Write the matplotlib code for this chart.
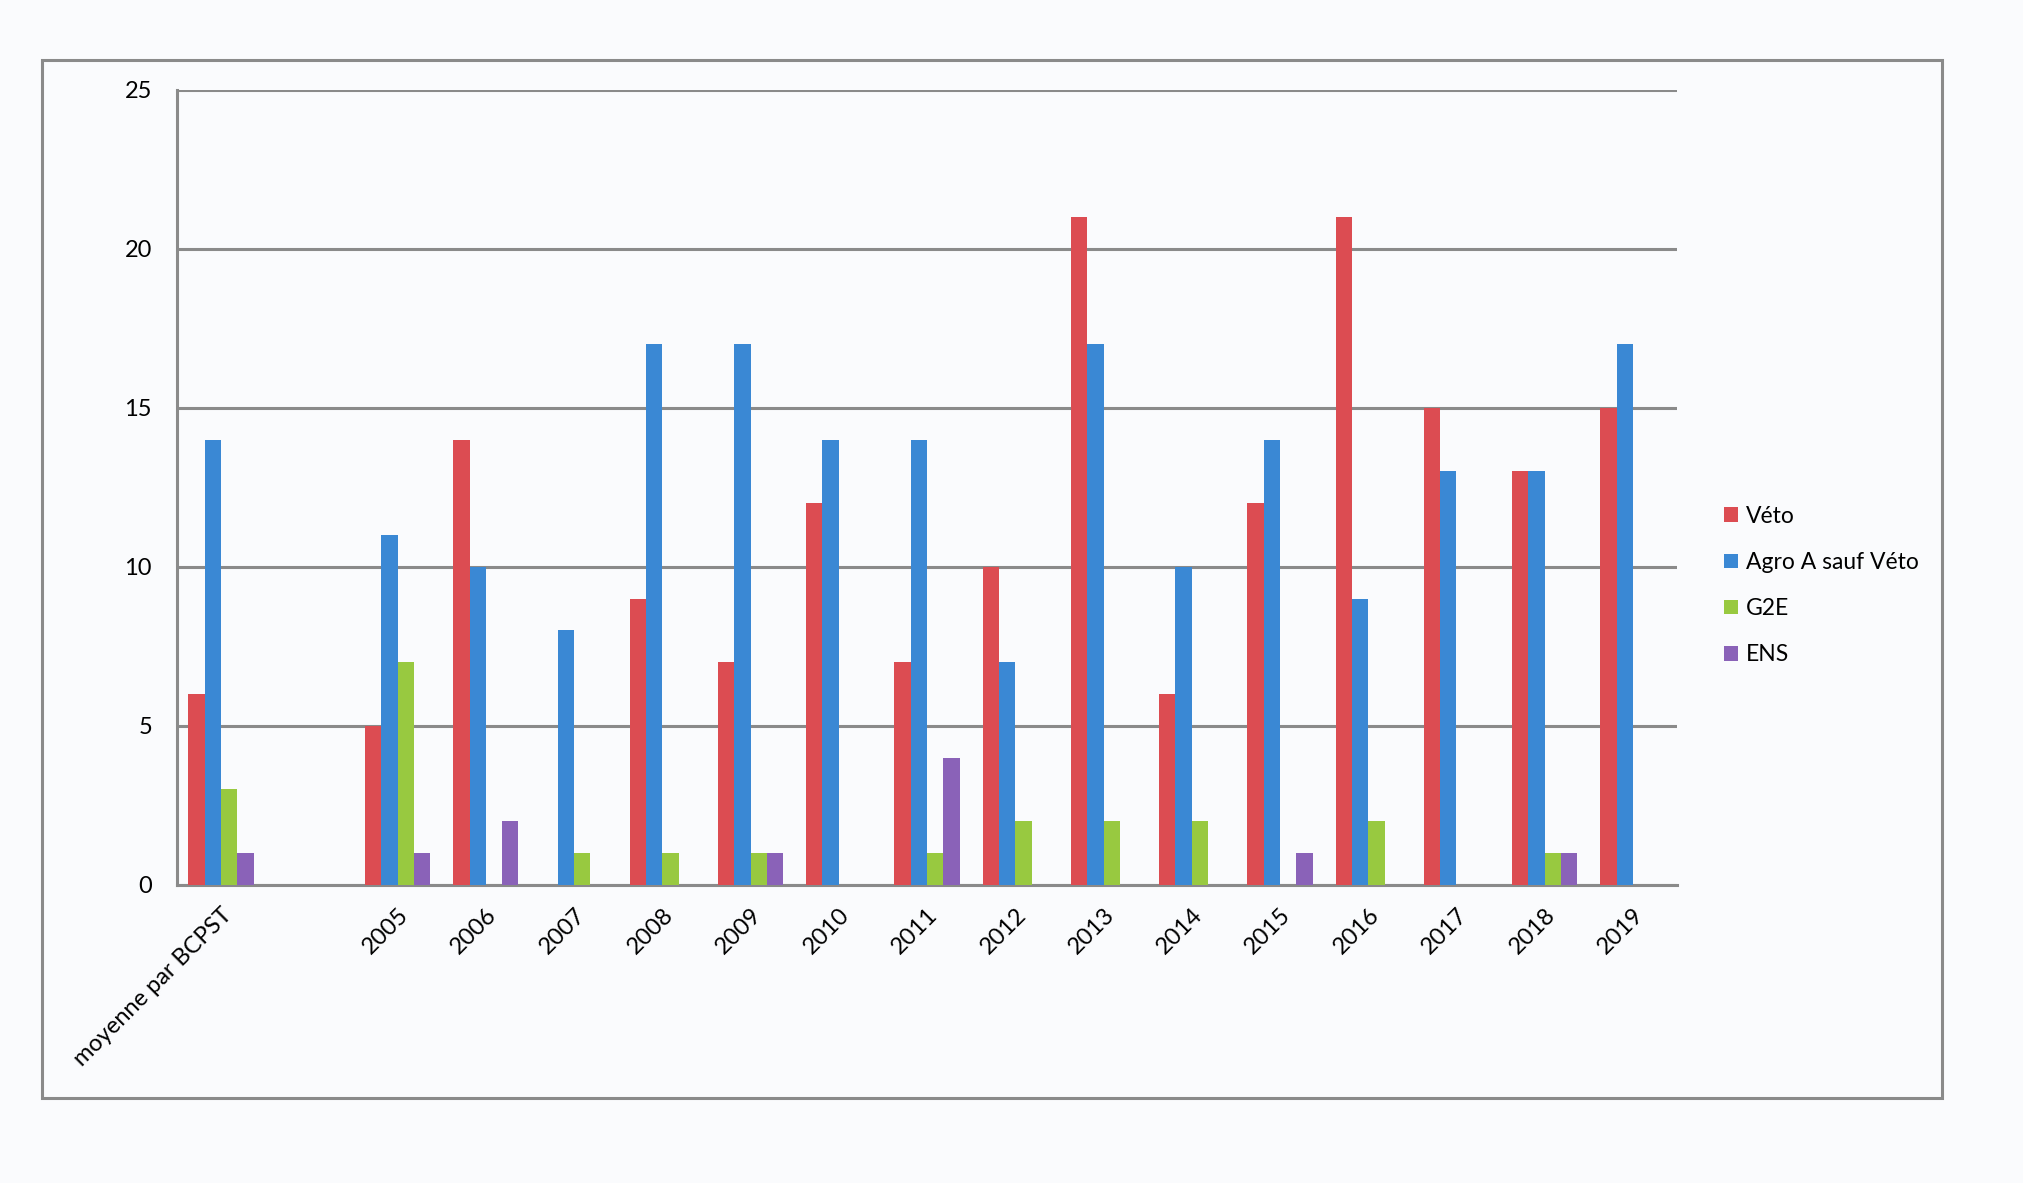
import matplotlib.pyplot as plt
import numpy as np
from matplotlib.patches import Rectangle

plt.rcParams['font.family'] = ['Lato', 'DejaVu Sans']

# Categories (an empty slot separates the average from the years)
categories = ['moyenne par BCPST', '', '2005', '2006', '2007', '2008', '2009', '2010',
              '2011', '2012', '2013', '2014', '2015', '2016', '2017', '2018', '2019']

veto = [6, 0, 5, 14, 0, 9, 7, 12, 7, 10, 21, 6, 12, 21, 15, 13, 15]
agro = [14, 0, 11, 10, 8, 17, 17, 14, 14, 7, 17, 10, 14, 9, 13, 13, 17]
g2e = [3, 0, 7, 0, 1, 1, 1, 0, 1, 2, 2, 2, 0, 2, 0, 1, 0]
ens = [1, 0, 1, 2, 0, 0, 1, 0, 4, 0, 0, 0, 1, 0, 0, 1, 0]

series = [('Véto', veto, '#dc4c52'),
          ('Agro A sauf Véto', agro, '#3a88d4'),
          ('G2E', g2e, '#98c940'),
          ('ENS', ens, '#8a62b8')]

bg = '#fafbfd'
fig = plt.figure(figsize=(20.23, 11.83), dpi=100, facecolor=bg)
ax = fig.add_axes([0.0875, 0.252, 0.7415, 0.672])
ax.set_facecolor(bg)

x = np.arange(len(categories))
w = 0.185
for i, (name, vals, col) in enumerate(series):
    ax.bar(x + (i - 1.5) * w, vals, width=w, color=col, label=name, zorder=3)

ax.set_xlim(-0.5, len(categories) - 0.5)
ax.set_ylim(0, 25)
ax.set_yticks(range(0, 26, 5))
ax.grid(axis='y', color='#8a8a8a', linewidth=2.2, zorder=0)
ax.set_xticks(x)
ax.set_xticklabels(categories, rotation=45, ha='right', rotation_mode='anchor')
ax.tick_params(axis='both', length=0, labelsize=17)
ax.tick_params(axis='y', pad=18)
ax.tick_params(axis='x', pad=14)

for s in ['top', 'right']:
    ax.spines[s].set_visible(False)
for s in ['left', 'bottom']:
    ax.spines[s].set_color('#8a8a8a')
    ax.spines[s].set_linewidth(2.2)

leg = fig.legend(loc='center left', bbox_to_anchor=(0.842, 0.505), frameon=False,
                 fontsize=16.5, handlelength=0.6, handleheight=0.6, handletextpad=0.35,
                 labelspacing=1.1)

# outer chart border
fig.patches.append(Rectangle((0.021, 0.072), 0.939, 0.877, transform=fig.transFigure,
                             fill=False, edgecolor='#8a8a8a', linewidth=2.2))

plt.savefig('out.png', dpi=100, facecolor=bg)
